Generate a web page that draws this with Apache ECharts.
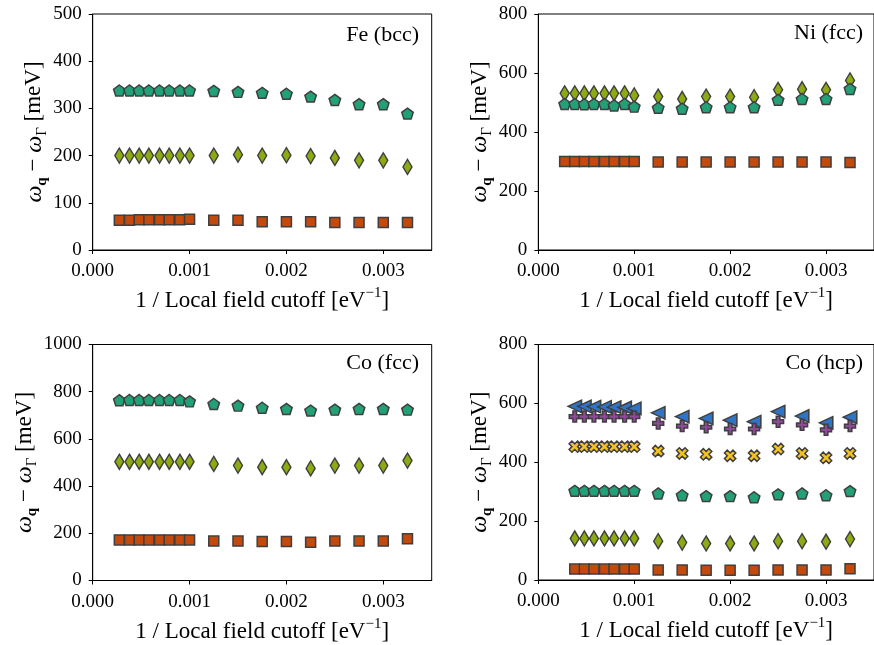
<!DOCTYPE html>
<html>
<head>
<meta charset="utf-8">
<script src="https://cdn.jsdelivr.net/npm/echarts@6/dist/echarts.min.js"></script>
<style>html,body{margin:0;padding:0;background:#fff}#c{width:874px;height:645px}</style>
</head>
<body>
<div id="c"></div>
<script>
// ---- data ----
const xFull = [0.000275,0.00038,0.00048,0.00058,0.00069,0.00079,0.00090,0.00100,0.00125,0.0015,0.00175,0.002,0.00225,0.0025,0.00275,0.003,0.00325];
const xHcp  = [0.00038,0.00048,0.00058,0.00069,0.00079,0.00090,0.00100,0.00125,0.0015,0.00175,0.002,0.00225,0.0025,0.00275,0.003,0.00325];

const feSquare  = [63,63,64,64,64,64,64,65,63,63,60,60,60,58,58,58,58];
const feDiamond = [200,200,200,200,200,200,200,200,200,202,200,201,199,195,190,190,176];
const fePent    = [338,338,338,338,338,338,338,338,337,335,333,331,325,318,309,309,289];

const niSquare  = [300,300,300,300,300,300,300,300,298,298,298,298,298,298,298,298,297];
const niDiamond = [531,531,531,531,531,531,531,524,520,512,520,520,518,543,545,543,575];
const niPent    = [495,495,494,495,495,490,495,486,482,479,484,484,484,509,512,512,546];

const cofSquare  = [172,172,172,172,172,172,172,172,167,167,165,165,162,167,167,167,177];
const cofDiamond = [503,503,503,503,503,503,503,503,494,487,480,480,475,487,487,487,508];
const cofPent    = [764,765,765,765,765,765,765,759,748,741,732,727,720,724,727,727,724];

const cohSquare  = [37,37,37,37,37,37,37,34,34,33,33,33,34,34,34,38];
const cohDiamond = [141,141,141,141,141,141,141,132,127,124,124,124,132,132,130,139];
const cohPent    = [303,303,303,303,303,303,303,294,288,285,285,281,291,294,288,302];
const cohX       = [453,453,453,453,453,453,453,438,430,427,422,422,445,430,415,430];
const cohPlus    = [555,555,555,555,555,555,555,532,523,519,513,513,538,527,510,523];
const cohTri     = [590,590,589,588,587,586,583,568,555,549,543,538,572,557,534,553];

const panelTitles = ['Fe (bcc)','Ni (fcc)','Co (fcc)','Co (hcp)'];
const yMax = [500,800,1000,800];
const yInt = [100,200,200,200];

// ---- styles ----
const FONT = 'Liberation Serif';
const EDGE = '#3f3f3f';
const C = {sq:'#c4490d', di:'#8cab12', pe:'#22a077', bl:'#2f74c7', pu:'#8e4a98', ye:'#f6c31e'};
const PENT = 'path://M0,-1 L0.951,-0.309 L0.588,0.809 L-0.588,0.809 L-0.951,-0.309 Z';
const PLUS = 'path://M-1,-3 L-1,-1 L-3,-1 L-3,1 L-1,1 L-1,3 L1,3 L1,1 L3,1 L3,-1 L1,-1 L1,-3 Z';

const grids = [
  {left:92.7, top:14, width:339, height:236},
  {left:538.3, top:14, width:338, height:236},
  {left:92.7, top:344.5, width:339, height:236},
  {left:538.3, top:344.5, width:338, height:235.5}
];

function pairs(xs, ys){ return xs.map((x,i)=>[x,ys[i]]); }
function ser(g, xs, ys, symbol, size, color, extra){
  return Object.assign({
    type:'scatter', xAxisIndex:g, yAxisIndex:g, data:pairs(xs,ys),
    symbol:symbol, symbolSize:size,
    itemStyle:{color:color, borderColor:EDGE, borderWidth:1.5, opacity:1},
    emphasis:{disabled:true}, animation:false
  }, extra||{});
}

const series = [
  ser(0,xFull,feSquare,'rect',10,C.sq),
  ser(0,xFull,feDiamond,'diamond',[9,15],C.di),
  ser(0,xFull,fePent,PENT,[11.5,11],C.pe),
  ser(1,xFull,niSquare,'rect',10,C.sq),
  ser(1,xFull,niDiamond,'diamond',[9,15],C.di),
  ser(1,xFull,niPent,PENT,[11.5,11],C.pe),
  ser(2,xFull,cofSquare,'rect',10,C.sq),
  ser(2,xFull,cofDiamond,'diamond',[9,15],C.di),
  ser(2,xFull,cofPent,PENT,[11.5,11],C.pe),
  ser(3,xHcp,cohSquare,'rect',10,C.sq),
  ser(3,xHcp,cohDiamond,'diamond',[9,15],C.di),
  ser(3,xHcp,cohPent,PENT,[11.5,11],C.pe),
  ser(3,xHcp,cohX,PLUS,[12,12],C.ye,{symbolRotate:45}),
  ser(3,xHcp,cohTri,'triangle',[12.5,13.5],C.bl,{symbolRotate:90}),
  ser(3,xHcp,cohPlus,PLUS,[11,11],C.pu)
];

const tickFont = {fontFamily:FONT, fontSize:19, color:'#000'};
const xName = '{m|1 / Local field cutoff [eV}{sup|\u22121}{m|]}';
const yName = '{w|\u03c9}{sb|q}{m| \u2212 }{w|\u03c9}{s|\u0393}{m| [meV]}';
const nameRich = {
  m:{fontFamily:FONT, fontSize:23, lineHeight:30, verticalAlign:'middle', color:'#000'},
  w:{fontFamily:FONT, fontSize:24, fontStyle:'italic', lineHeight:30, verticalAlign:'middle', color:'#000'},
  s:{fontFamily:FONT, fontSize:15, lineHeight:16, verticalAlign:'bottom', color:'#000'},
  sb:{fontFamily:FONT, fontSize:15, fontWeight:'bold', lineHeight:16, verticalAlign:'bottom', color:'#000'},
  sup:{fontFamily:FONT, fontSize:15, lineHeight:17, verticalAlign:'top', color:'#000'}
};

const xAxis = grids.map((g,i)=>({
  type:'value', gridIndex:i, min:0, max:0.0035, interval:0.001,
  name:xName, nameLocation:'middle', nameGap:36,
  nameTextStyle:{rich:nameRich},
  axisLine:{show:true, onZero:false, lineStyle:{color:'#000', width:1}},
  axisTick:{show:true, length:4, lineStyle:{color:'#000', width:1}},
  axisLabel:Object.assign({margin:12, showMaxLabel:false, formatter:v=>v.toFixed(3)}, tickFont),
  splitLine:{show:false}
}));
const yAxis = grids.map((g,i)=>({
  type:'value', gridIndex:i, min:0, max:yMax[i], interval:yInt[i],
  name:yName, nameLocation:'middle', nameGap:42, nameRotate:90,
  nameTextStyle:{rich:nameRich},
  axisLine:{show:true, lineStyle:{color:'#000', width:1}},
  axisTick:{show:true, length:4, lineStyle:{color:'#000', width:1}},
  axisLabel:Object.assign({margin:11, formatter:v=>String(v)}, tickFont),
  splitLine:{show:false}
}));

const titleRight = [874-419, 874-863, 874-419, 874-863];
const titleTop = [24, 22, 352, 352];
const titles = panelTitles.map((t,i)=>({
  text:t, right:titleRight[i], top:titleTop[i], padding:0,
  textStyle:{fontFamily:FONT, fontSize:22, fontWeight:'normal', color:'#000'}
}));

const chart = echarts.init(document.getElementById('c'), null, {renderer:'canvas'});
chart.setOption({
  backgroundColor:'#fff',
  animation:false,
  title:titles,
  grid:grids.map(g=>Object.assign({show:true, borderColor:'#000', borderWidth:1, backgroundColor:'transparent', containLabel:false}, g)),
  xAxis:xAxis, yAxis:yAxis, series:series
});
</script>
</body>
</html>
